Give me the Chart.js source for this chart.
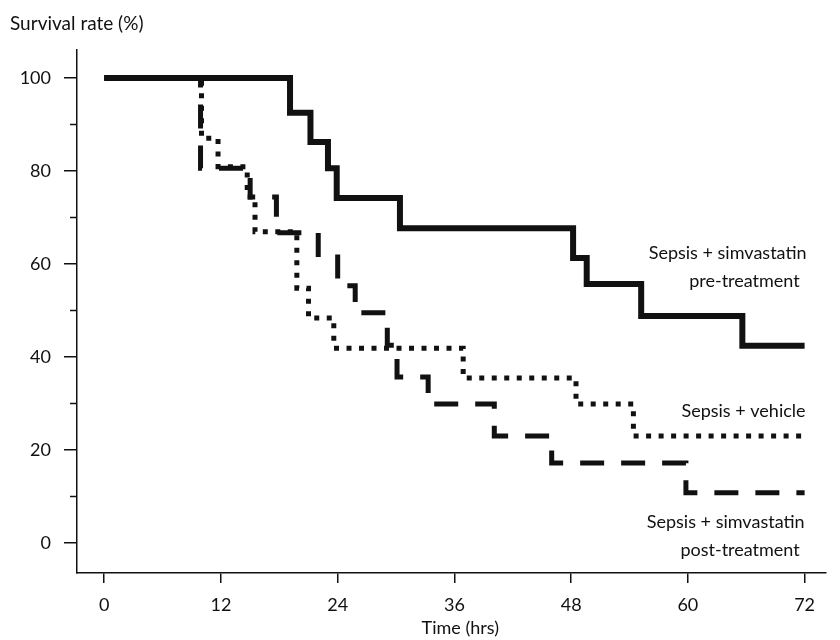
<!DOCTYPE html>
<html>
<head>
<meta charset="utf-8">
<script src="https://cdn.jsdelivr.net/npm/chart.js@4.4.1/dist/chart.umd.min.js"></script>
<style>
    html, body { margin: 0; padding: 0; background: #fff; }
</style>
</head>
<body>
<canvas id="km-chart" width="840" height="640"></canvas>
<script>
    // Kaplan-Meier steps: time of each drop (hrs) and survival (%) after it
    const preHours     = [0, 19.1, 21.2, 23.0, 23.9, 30.4, 48.2, 49.6, 55.2, 65.6, 72];
    const preSurvival  = [100, 92.5, 86.2, 80.6, 74.2, 67.7, 61.3, 55.7, 48.8, 42.4, 42.4];

    const vehHours     = [0, 10.0, 11.7, 14.7, 15.5, 19.8, 21.0, 23.6, 36.9, 48.5, 54.4, 72];
    const vehSurvival  = [100, 87.0, 80.9, 74.4, 66.9, 54.8, 48.4, 41.9, 35.5, 29.9, 23.0, 23.0];

    const postHours    = [0, 9.9, 15.0, 17.7, 22.0, 24.0, 25.8, 29.1, 30.1, 33.3, 40.1, 46.0, 59.8, 72];
    const postSurvival = [100, 80.6, 74.4, 66.7, 61.5, 55.3, 49.5, 42.5, 35.7, 29.9, 23.0, 17.2, 10.8, 10.8];

    const xTickValues = [0, 12, 24, 36, 48, 60, 72];
    const yTickValues = [0, 10, 20, 30, 40, 50, 60, 70, 80, 90, 100];

    const groupNames = [
        ["Sepsis + simvastatin", "pre-treatment"],
        ["Sepsis + vehicle"],
        ["Sepsis + simvastatin", "post-treatment"]
    ];
    const yTitle = "Survival rate (%)";
    const xTitle = "Time (hrs)";

    const FONT = "Lato, 'Open Sans', sans-serif";
    const INK  = "#111";

    function toPoints(hours, values) {
        return hours.map((h, i) => ({ x: h, y: values[i] }));
    }

    // where each text line sits (right edge, hrs / %)
    const nameSpots = [
        [{ x: 72.2, y: 62.4 }, { x: 71.5, y: 56.3 }],
        [{ x: 72.1, y: 28.4 }],
        [{ x: 72.0, y: 4.5 },  { x: 71.5, y: -1.5 }]
    ];

    // extras: axis titles, short minor ticks, curve names
    const decor = {
        id: "decor",
        afterDraw(chart) {
            const ctx = chart.ctx;
            const xs = chart.scales.x;
            const ys = chart.scales.y;
            const left = chart.chartArea.left;

            ctx.save();
            ctx.fillStyle = INK;
            ctx.textBaseline = "middle";
            ctx.textAlign = "left";
            ctx.font = "19px " + FONT;
            ctx.fillText(yTitle, 10, 24);

            ctx.font = "18px " + FONT;
            ctx.textAlign = "center";
            ctx.fillText(xTitle, xs.getPixelForValue(36.6), 628);

            ctx.strokeStyle = INK;
            ctx.lineWidth = 1.5;
            yTickValues.forEach((v) => {
                if (v % 20 === 0) return;
                const py = Math.round(ys.getPixelForValue(v)) + 0.5;
                ctx.beginPath();
                ctx.moveTo(left - 7, py);
                ctx.lineTo(left, py);
                ctx.stroke();
            });

            ctx.textAlign = "right";
            groupNames.forEach((lines, g) => {
                lines.forEach((txt, i) => {
                    const spot = nameSpots[g][i];
                    ctx.fillText(txt, xs.getPixelForValue(spot.x), ys.getPixelForValue(spot.y));
                });
            });
            ctx.restore();
        }
    };

    const lineBase = {
        borderColor: INK,
        backgroundColor: INK,
        stepped: "before",
        pointRadius: 0,
        fill: false,
        borderJoinStyle: "miter",
        borderCapStyle: "butt"
    };

    new Chart(document.getElementById("km-chart"), {
        type: "line",
        data: {
            datasets: [
                Object.assign({}, lineBase, { data: toPoints(postHours, postSurvival), borderWidth: 5, borderDash: [24, 17] }),
                Object.assign({}, lineBase, { data: toPoints(vehHours, vehSurvival), borderWidth: 5, borderDash: [5, 7.5] }),
                Object.assign({}, lineBase, { data: toPoints(preHours, preSurvival), borderWidth: 6 })
            ]
        },
        options: {
            responsive: false,
            animation: false,
            devicePixelRatio: 1,
            layout: { padding: { top: 50, right: 14, left: 0, bottom: 0 } },
            plugins: {
                legend: { display: false },
                tooltip: { enabled: false }
            },
            scales: {
                x: {
                    type: "linear",
                    min: -2.8,
                    max: 74.2,
                    afterBuildTicks: (s) => { s.ticks = xTickValues.map((v) => ({ value: v })); },
                    afterFit: (s) => { s.height = 67; },
                    grid: { drawOnChartArea: false, drawTicks: true, tickLength: 10, color: INK, lineWidth: 1.5 },
                    border: { display: true, color: INK, width: 1.5 },
                    ticks: { padding: 11, color: INK, font: { family: FONT, size: 18 }, maxRotation: 0, autoSkip: false }
                },
                y: {
                    type: "linear",
                    min: -6.45,
                    max: 106,
                    afterBuildTicks: (s) => { s.ticks = yTickValues.map((v) => ({ value: v })); },
                    afterFit: (s) => { s.width = 77; },
                    grid: {
                        drawOnChartArea: false,
                        drawTicks: true,
                        tickLength: 13,
                        color: INK,
                        lineWidth: 1.5,
                        tickColor: (c) => (c.tick && c.tick.value % 20 === 0 ? INK : "rgba(0,0,0,0)")
                    },
                    border: { display: true, color: INK, width: 1.5 },
                    ticks: {
                        padding: 13,
                        color: INK,
                        font: { family: FONT, size: 18 },
                        autoSkip: false,
                        callback: (v) => (v % 20 === 0 ? v : "")
                    }
                }
            }
        },
        plugins: [decor]
    });
</script>
</body>
</html>
